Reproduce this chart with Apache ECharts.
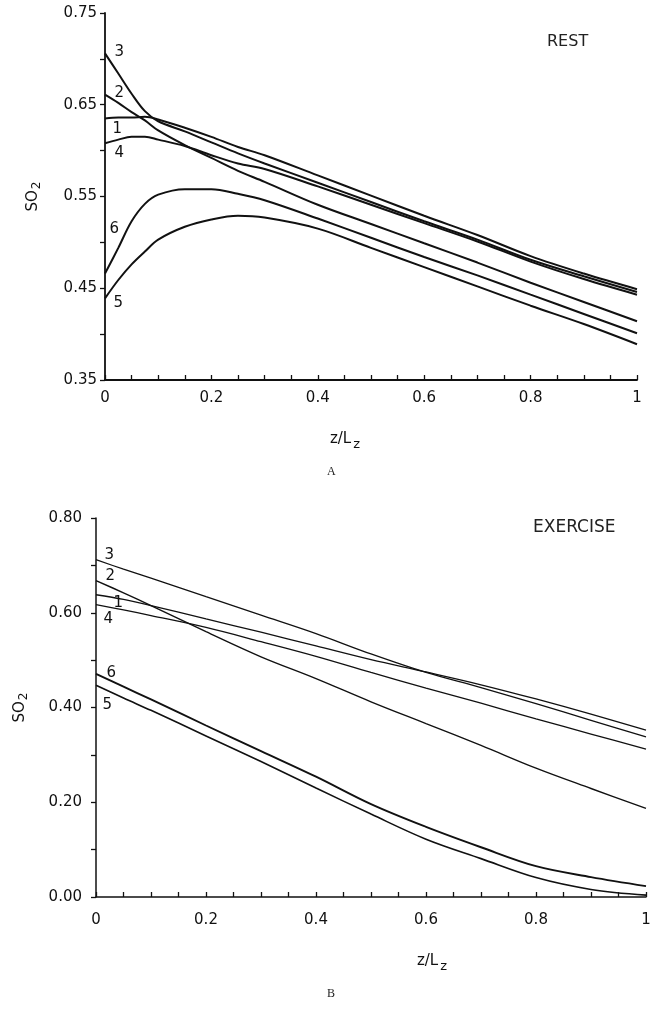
<!DOCTYPE html>
<html>
<head>
<meta charset="utf-8">
<script src="https://cdn.jsdelivr.net/npm/echarts@6/dist/echarts.min.js"></script>
<style>
html,body{margin:0;padding:0;background:#fff;}
#c{width:663px;height:1014px;}
</style>
</head>
<body>
<div id="c"></div>
<script>
// ---------- Panel A (REST) ----------
const xRest = [0, 0.025, 0.05, 0.075, 0.1, 0.15, 0.2, 0.25, 0.3, 0.4, 0.5, 0.6, 0.7, 0.8, 0.9, 1.0];
const rest1 = [0.635, 0.636, 0.636, 0.637, 0.634, 0.625, 0.615, 0.604, 0.595, 0.573, 0.551, 0.529, 0.508, 0.485, 0.466, 0.449];
const rest2 = [0.661, 0.652, 0.642, 0.633, 0.622, 0.606, 0.592, 0.578, 0.566, 0.541, 0.520, 0.499, 0.478, 0.456, 0.435, 0.414];
const rest3 = [0.706, 0.684, 0.662, 0.643, 0.632, 0.621, 0.609, 0.597, 0.586, 0.565, 0.544, 0.523, 0.503, 0.481, 0.463, 0.446];
const rest4 = [0.608, 0.612, 0.615, 0.615, 0.612, 0.605, 0.595, 0.586, 0.580, 0.561, 0.541, 0.521, 0.501, 0.479, 0.460, 0.443];
const rest5 = [0.439, 0.459, 0.476, 0.490, 0.503, 0.517, 0.525, 0.529, 0.527, 0.515, 0.494, 0.473, 0.452, 0.431, 0.411, 0.389];
const rest6 = [0.466, 0.494, 0.523, 0.542, 0.552, 0.558, 0.558, 0.553, 0.546, 0.526, 0.505, 0.484, 0.464, 0.443, 0.422, 0.401];

// ---------- Panel B (EXERCISE) ----------
const xExer = [0, 0.05, 0.1, 0.2, 0.3, 0.4, 0.5, 0.6, 0.7, 0.8, 0.9, 1.0];
const exer1 = [0.638, 0.628, 0.615, 0.587, 0.559, 0.530, 0.501, 0.475, 0.448, 0.418, 0.386, 0.352];
const exer2 = [0.668, 0.642, 0.615, 0.560, 0.507, 0.461, 0.412, 0.366, 0.320, 0.272, 0.229, 0.187];
const exer3 = [0.712, 0.692, 0.673, 0.634, 0.595, 0.556, 0.513, 0.474, 0.442, 0.408, 0.373, 0.338];
const exer4 = [0.617, 0.606, 0.594, 0.569, 0.539, 0.508, 0.474, 0.441, 0.409, 0.376, 0.344, 0.312];
const exer5 = [0.447, 0.420, 0.394, 0.340, 0.286, 0.230, 0.175, 0.122, 0.081, 0.041, 0.016, 0.004];
const exer6 = [0.471, 0.444, 0.417, 0.362, 0.308, 0.254, 0.196, 0.148, 0.105, 0.065, 0.042, 0.023];

// ---------- tick labels / names ----------
const curveNames = ['1', '2', '3', '4', '5', '6'];
const xTickLabels = ['0', '0.2', '0.4', '0.6', '0.8', '1'];
const yTickLabelsRest = ['0.35', '0.45', '0.55', '0.65', '0.75'];
const yTickLabelsExer = ['0.00', '0.20', '0.40', '0.60', '0.80'];
const panelTitles = ['REST', 'EXERCISE'];
const panelLetters = ['A', 'B'];

// ---------- styling (label offsets etc.) ----------
const labelOffsetRest = { '1': [7, 11], '2': [9, -2], '3': [9, -1], '4': [9, 10], '5': [8, 5], '6': [4, -44] };
const labelOffsetExer = { '1': [17, 8], '2': [9, -4], '3': [8, -5], '4': [7, 14], '5': [6, 20], '6': [10, -1] };

const FONT = 'DejaVu Sans';
const INK = '#111';

function makeSeries(name, xs, ys, gi, width, off) {
  return {
    type: 'line',
    name: name,
    xAxisIndex: gi,
    yAxisIndex: gi,
    silent: true,
    smooth: 0.35,
    symbol: 'circle',
    symbolSize: 1,
    showSymbol: true,
    itemStyle: { color: 'rgba(0,0,0,0)', borderWidth: 0 },
    lineStyle: { color: INK, width: width },
    data: xs.map(function (x, i) {
      if (i === 0) {
        return {
          value: [x, ys[i]],
          label: {
            show: true, formatter: name, position: 'right', distance: 0,
            offset: off, color: INK, fontSize: 15, fontFamily: FONT
          }
        };
      }
      return [x, ys[i]];
    })
  };
}

const restData = [rest1, rest2, rest3, rest4, rest5, rest6];
const exerData = [exer1, exer2, exer3, exer4, exer5, exer6];
const exerWidths = [1.3, 1.4, 1.3, 1.3, 1.6, 1.9];

const series = [];
curveNames.forEach(function (n, i) {
  series.push(makeSeries(n, xRest, restData[i], 0, 2, labelOffsetRest[n]));
});
curveNames.forEach(function (n, i) {
  series.push(makeSeries(n, xExer, exerData[i], 1, exerWidths[i], labelOffsetExer[n]));
});

function xAxisCfg(gi, nameGap, namePad, labelMargin, lw) {
  return {
    gridIndex: gi, type: 'value', min: 0, max: 1, interval: 0.2,
    name: '{a|z/L}{b|z}', nameLocation: 'middle', nameGap: nameGap,
    nameTextStyle: {
      padding: namePad,
      rich: {
        a: { fontSize: 15, fontFamily: FONT, color: INK },
        b: { fontSize: 13, fontFamily: FONT, color: INK, padding: [10, 0, 0, 2] }
      }
    },
    axisLine: { show: true, onZero: false, lineStyle: { color: INK, width: lw } },
    axisTick: { show: true, inside: true, length: 5, lineStyle: { color: INK, width: 1.3 } },
    minorTick: { show: true, splitNumber: 4, length: 5, lineStyle: { color: INK, width: 1.3 } },
    splitLine: { show: false },
    axisLabel: {
      margin: labelMargin, fontSize: 15, fontFamily: FONT, color: INK,
      formatter: function (v) { return xTickLabels[Math.round(v / 0.2)] || ''; }
    }
  };
}

function yAxisCfg(gi, min, max, interval, labels, nameGap, labelMargin, lw) {
  return {
    gridIndex: gi, type: 'value', min: min, max: max, interval: interval,
    name: '{a|SO}{b|2}', nameLocation: 'middle', nameGap: nameGap, nameRotate: 90,
    nameTextStyle: {
      rich: {
        a: { fontSize: 15, fontFamily: FONT, color: INK },
        b: { fontSize: 12, fontFamily: FONT, color: INK, padding: [8, 0, 0, 1] }
      }
    },
    axisLine: { show: true, onZero: false, lineStyle: { color: INK, width: lw } },
    axisTick: { show: true, inside: false, length: 5, lineStyle: { color: INK, width: 1.3 } },
    minorTick: { show: true, splitNumber: 2, length: 5, lineStyle: { color: INK, width: 1.3 } },
    splitLine: { show: false },
    axisLabel: {
      margin: labelMargin, fontSize: 15, fontFamily: FONT, color: INK,
      formatter: function (v) { return labels[Math.round((v - min) / interval)] || ''; }
    }
  };
}

const option = {
  backgroundColor: '#fff',
  animation: false,
  title: [
    { text: panelTitles[0], left: 547, top: 34, padding: 0,
      textStyle: { fontSize: 16, fontWeight: 'normal', fontFamily: FONT, color: '#222' } },
    { text: panelTitles[1], left: 533, top: 519, padding: 0,
      textStyle: { fontSize: 17, fontWeight: 'normal', fontFamily: FONT, color: '#222' } },
    { text: panelLetters[0], left: 327, top: 466, padding: 0,
      textStyle: { fontSize: 12, fontWeight: 'normal', fontFamily: 'Liberation Serif', color: '#222' } },
    { text: panelLetters[1], left: 327, top: 988, padding: 0,
      textStyle: { fontSize: 12, fontWeight: 'normal', fontFamily: 'Liberation Serif', color: '#222' } }
  ],
  grid: [
    { left: 105, top: 13, width: 532, height: 367 },
    { left: 96, top: 518, width: 550, height: 379 }
  ],
  xAxis: [
    xAxisCfg(0, 48, [0, 52, 0, 0], 11, 1.8),
    xAxisCfg(1, 53, [0, 0, 0, 122], 16, 1.5)
  ],
  yAxis: [
    yAxisCfg(0, 0.35, 0.75, 0.1, yTickLabelsRest, 62, 8, 1.8),
    yAxisCfg(1, 0, 0.8, 0.2, yTickLabelsExer, 66, 14, 1.5)
  ],
  series: series
};

const chart = echarts.init(document.getElementById('c'), null, { renderer: 'canvas' });
chart.setOption(option);
</script>
</body>
</html>
